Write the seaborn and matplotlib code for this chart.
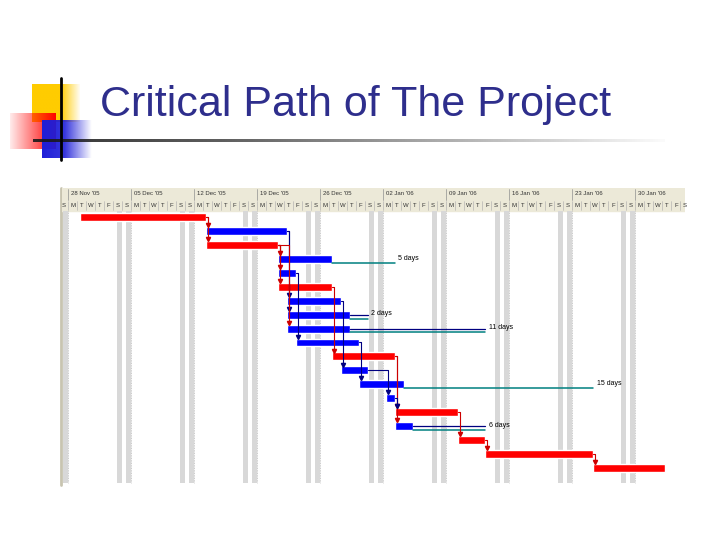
import numpy as np
import pandas as pd
import matplotlib
matplotlib.use("Agg")
import matplotlib.pyplot as plt
from matplotlib.patches import Rectangle
import seaborn as sns

sns.set_style("white")
plt.rcParams['font.family'] = ['Liberation Sans', 'DejaVu Sans']

# Project data
project_start = "2005-11-28"
task_start = ["2005-11-29", "2005-12-13", "2005-12-13", "2005-12-21", "2005-12-21",
              "2005-12-21", "2005-12-22", "2005-12-22", "2005-12-22", "2005-12-23",
              "2005-12-27", "2005-12-28", "2005-12-30", "2006-01-02", "2006-01-03",
              "2006-01-03", "2006-01-10", "2006-01-13", "2006-01-25"]
task_days = [14, 9, 8, 6, 2, 6, 6, 7, 7, 7, 7, 3, 5, 1, 7, 2, 3, 12, 8]
critical = [True, False, True, False, False, True, False, False, False, False,
            True, False, False, False, True, False, True, True, True]
links = [(1, 2), (1, 3), (2, 7), (2, 8), (3, 4), (3, 5), (3, 6), (3, 9), (5, 10),
         (6, 11), (7, 12), (10, 13), (11, 15), (11, 16), (12, 14), (14, 15),
         (15, 17), (17, 18), (18, 19)]
slack_task = [4, 8, 9, 13, 16]
slack_days = [7, 2, 15, 21, 8]
slack_text = ["5 days", "2 days", "11 days", "15 days", "6 days"]
free_task = [8, 9, 16]
free_days = [2, 15, 8]
day_letters = ["M", "T", "W", "T", "F", "S", "S"]

RED = "#ff0000"
BLUE = "#0000ff"
LINK_RED = "#cc0000"
NAVY = "#000080"
TEAL = "#008080"

origin = pd.Timestamp(project_start)
starts = np.array([(pd.Timestamp(d) - origin).days for d in task_start]) + 8 / 24
durs = np.array(task_days, dtype=float)
ends = starts + durs
rows = np.arange(len(task_days))

fig = plt.figure(figsize=(7.2, 5.4), dpi=100)

# slide decoration
bg = fig.add_axes([0, 0, 1, 1])
bg.axis('off')


def gradient(x0, x1, y0, y1, rgb, stops, alphas, z):
    a = np.interp(np.linspace(0, 1, 128), stops, alphas)
    img = np.zeros((2, 128, 4))
    img[..., :3] = rgb
    img[..., 3] = a
    bg.imshow(img, extent=(x0, x1, y1, y0), aspect='auto',
              interpolation='bilinear', zorder=z)


gradient(32, 80, 84, 122, (1.0, 0.8, 0.0), [0, 0.6, 1], [1, 1, 0.05], 1)
gradient(10, 56, 113, 149, (1.0, 0.0, 0.0), [0, 1], [0.08, 1], 2)
gradient(42, 92, 120, 158, (0.12, 0.12, 0.85), [0, 0.45, 1], [1, 0.9, 0], 3)
gradient(33, 665, 140.3, 142.5, (0.1, 0.1, 0.1), [0, 0.3, 1], [0.9, 0.7, 0.02], 4)
bg.plot([61, 61], [78, 160], color="black", lw=2, zorder=5)
bg.text(100, 116, "Critical Path of The Project", fontsize=31,
        color="#2e2e8c", va="baseline", ha="left", zorder=6)
bg.plot([61, 61], [188, 485], color="#c8c4b0", lw=2, zorder=1)
bg.set_xlim(0, 720)
bg.set_ylim(540, 0)

# gantt chart
ax = fig.add_axes([62 / 720, 55 / 540, 623 / 720, 297 / 540])
ax.axis('off')
ax.set_xlim(-0.67, 68.5)
ax.set_ylim(19.22, -2.08)

ax.add_patch(Rectangle((-1, -2.08), 71, 1.65, color="#ece9d8", zorder=0))

for d in range(-1, 69):
    wd = d % 7
    if wd >= 5 and d < 68:
        ax.add_patch(Rectangle((d + 0.42, -0.43), 0.55, 19.5,
                               color="#d8d8d8", lw=0, zorder=0.5))
    ax.text(d + 0.5, -0.8, day_letters[wd], ha="center", va="center",
            fontsize=4.3, color="#333333")
    ax.plot([d, d], [-1.15, -0.5], color="#a8a8a8", lw=0.4)

week_starts = np.arange(0, 69, 7)
for ws in week_starts:
    lab = (origin + pd.Timedelta(days=int(ws))).strftime("%d %b '%y")
    ax.text(ws + 0.3, -1.65, lab, fontsize=4.3, va="center", color="#333333")
    ax.plot([ws, ws], [-2.0, -1.25], color="#909090", lw=0.5)
ax.vlines(week_starts, -0.43, 19.08, colors="#b8b8b8", linestyles=(0, (1, 1)),
          lw=0.6, zorder=0.5)

colors = [RED if c else BLUE for c in critical]
ax.barh(rows, durs, left=starts, height=0.57, color=colors, zorder=2)

# slack lines
for t, s, txt in zip(slack_task, slack_days, slack_text):
    i = t - 1
    ax.plot([ends[i], ends[i] + s], [rows[i] + 0.28, rows[i] + 0.28],
            color=TEAL, lw=1.1, zorder=2.5)
    ax.text(ends[i] + s + 0.35, rows[i] - 0.05, txt, fontsize=5,
            va="center", ha="left", color="black")
for t, s in zip(free_task, free_days):
    i = t - 1
    ax.plot([ends[i], ends[i] + s], [rows[i] + 0.02, rows[i] + 0.02],
            color=NAVY, lw=0.9, zorder=2.5)

# dependency links
for p, s in links:
    p, s = p - 1, s - 1
    c = LINK_RED if critical[p] else NAVY
    xd = max(ends[p], starts[s]) + 0.2
    ax.plot([ends[p], xd, xd], [rows[p], rows[p], rows[s] - 0.5],
            color=c, lw=0.8, zorder=3)
    ax.plot(xd, rows[s] - 0.42, marker="v", ms=3, color=c, zorder=3)

fig.savefig("out.png", dpi=100)
